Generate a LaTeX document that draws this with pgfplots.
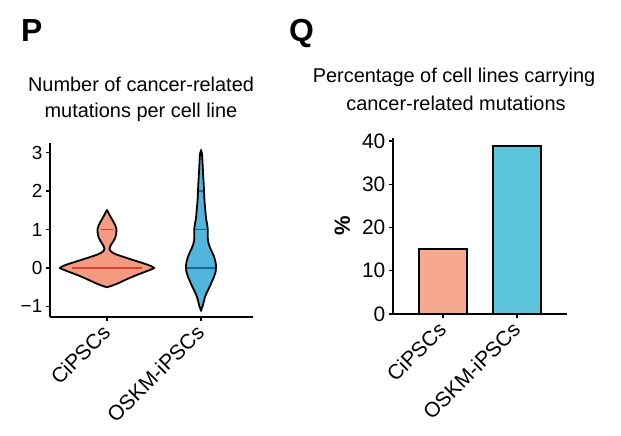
\documentclass[border=0pt]{standalone}
\usepackage{fontspec}
\setmainfont{Liberation Sans}
\usepackage{pgfplots}
\pgfplotsset{compat=1.18}
\definecolor{vio1}{HTML}{F39A80}
\definecolor{vio2}{HTML}{52B6DC}
\definecolor{line1}{HTML}{D9402B}
\definecolor{line2}{HTML}{1F64A0}
\definecolor{bar1}{HTML}{F6A98E}
\definecolor{bar2}{HTML}{5BC6DB}
\begin{document}
\begin{tikzpicture}[x=1bp,y=1bp]
\path[use as bounding box] (0,0) rectangle (621,436);
% panel letters
\node[anchor=base west,inner sep=0,font=\fontsize{32}{36}\selectfont\bfseries] at (21,394) {P};
\node[anchor=base west,inner sep=0,font=\fontsize{32}{36}\selectfont\bfseries] at (289,394) {Q};
% titles
\node[anchor=base,inner sep=0,font=\fontsize{20}{26}\selectfont] at (141,344) {Number of cancer-related};
\node[anchor=base,inner sep=0,font=\fontsize{20}{26}\selectfont] at (141,318) {mutations per cell line};
\node[anchor=base,inner sep=0,font=\fontsize{20}{26}\selectfont] at (454,353) {Percentage of cell lines carrying};
\node[anchor=base,inner sep=0,font=\fontsize{20}{26}\selectfont] at (456,325) {cancer-related mutations};
% ---------------- panel P
\begin{axis}[
  at={(50bp,119bp)}, anchor=south west,
  scale only axis, width=203bp, height=174bp,
  xmin=0.394, xmax=2.553, ymin=-1.273, ymax=3.247,
  axis x line*=bottom, axis y line*=left,
  axis line style={line width=1.8pt, black},
  xtick={1,2}, xticklabels={CiPSCs,OSKM-iPSCs},
  ytick={-1,0,1,2,3}, yticklabels={−1,0,1,2,3},
  tick style={line width=1.4pt, black},
  major tick length=4bp, tick align=outside,
  xticklabel style={rotate=45, anchor=east, font=\fontsize{21}{24}\selectfont, inner sep=1bp},
  xticklabel shift=7bp,
  yticklabel style={font=\fontsize{19}{22}\selectfont, inner sep=3.5bp},
  clip=false,
]
\addplot[fill=vio1, draw=black, line width=1.8pt, smooth, tension=0.5] coordinates {
(1,-0.5) (1.053,-0.46) (1.106,-0.41) (1.160,-0.35) (1.213,-0.29) (1.298,-0.2) (1.351,-0.15) (1.404,-0.1) (1.457,-0.05) (1.5,0) (1.468,0.05) (1.415,0.1) (1.351,0.15) (1.287,0.2) (1.223,0.25) (1.160,0.3) (1.101,0.35) (1.059,0.4) (1.034,0.45) (1.028,0.5) (1.032,0.55) (1.048,0.62) (1.069,0.7) (1.090,0.8) (1.099,0.9) (1.101,1.0) (1.090,1.1) (1.069,1.2) (1.045,1.3) (1.027,1.38) (1.013,1.45) (1,1.5)
(0.987,1.45) (0.973,1.38) (0.955,1.3) (0.931,1.2) (0.910,1.1) (0.899,1.0) (0.901,0.9) (0.910,0.8) (0.931,0.7) (0.952,0.62) (0.968,0.55) (0.972,0.5) (0.966,0.45) (0.941,0.4) (0.899,0.35) (0.840,0.3) (0.777,0.25) (0.713,0.2) (0.649,0.15) (0.585,0.1) (0.532,0.05) (0.5,0) (0.543,-0.05) (0.596,-0.1) (0.649,-0.15) (0.702,-0.2) (0.787,-0.29) (0.840,-0.35) (0.894,-0.41) (0.947,-0.46) (1,-0.5)
} -- cycle;
\addplot[fill=vio2, draw=black, line width=1.8pt, smooth, tension=0.5] coordinates {
(2,-1.1) (2.016,-1.0) (2.027,-0.9) (2.043,-0.75) (2.069,-0.6) (2.090,-0.5) (2.117,-0.35) (2.138,-0.23) (2.155,-0.1) (2.160,0) (2.158,0.1) (2.150,0.2) (2.138,0.3) (2.120,0.4) (2.101,0.5) (2.085,0.6) (2.074,0.7) (2.072,0.85) (2.072,1.0) (2.064,1.15) (2.053,1.3) (2.046,1.5) (2.037,1.75) (2.032,2.0) (2.027,2.25) (2.021,2.5) (2.016,2.75) (2.011,2.95) (2,3.05)
(1.989,2.95) (1.984,2.75) (1.979,2.5) (1.973,2.25) (1.968,2.0) (1.963,1.75) (1.954,1.5) (1.947,1.3) (1.936,1.15) (1.928,1.0) (1.928,0.85) (1.926,0.7) (1.915,0.6) (1.899,0.5) (1.880,0.4) (1.862,0.3) (1.850,0.2) (1.842,0.1) (1.840,0) (1.845,-0.1) (1.862,-0.23) (1.883,-0.35) (1.910,-0.5) (1.931,-0.6) (1.957,-0.75) (1.973,-0.9) (1.984,-1.0) (2,-1.1)
} -- cycle;
% quantile / point lines
\addplot[line1, line width=1.6pt] coordinates {(0.63,0) (1.37,0)};
\addplot[line1, line width=1.6pt] coordinates {(0.94,1) (1.06,1)};
\addplot[line2, line width=1.6pt] coordinates {(1.85,0) (2.15,0)};
\addplot[line2, line width=1.6pt] coordinates {(1.935,1) (2.065,1)};
\addplot[line2, line width=1.6pt] coordinates {(1.975,2) (2.025,2)};
\end{axis}
% ---------------- panel Q
\begin{axis}[
  at={(393bp,122bp)}, anchor=south west,
  scale only axis, width=174bp, height=176bp,
  xmin=0.3243, xmax=2.6757, ymin=0, ymax=40.7,
  axis x line*=bottom, axis y line*=left,
  axis line style={line width=1.8pt, black},
  xtick={1,2}, xticklabels={CiPSCs,OSKM-iPSCs},
  ytick={0,10,20,30,40},
  tick style={line width=1.4pt, black},
  major tick length=4bp, tick align=outside,
  xticklabel style={rotate=45, anchor=east, font=\fontsize{21}{24}\selectfont, inner sep=1bp},
  xticklabel shift=7bp,
  yticklabel style={font=\fontsize{21}{24}\selectfont, inner sep=3.5bp},
  /pgf/number format/assume math mode=true,
  ylabel={\bfseries\%}, ylabel style={font=\fontsize{22}{24}\selectfont},
  ylabel shift=5bp,
  clip=false,
]
\addplot[ybar, bar width=48bp, fill=bar1, draw=black, line width=1.6pt] coordinates {(1,15)};
\addplot[ybar, bar width=48bp, fill=bar2, draw=black, line width=1.6pt] coordinates {(2,38.8)};
\end{axis}
\end{tikzpicture}
\end{document}
